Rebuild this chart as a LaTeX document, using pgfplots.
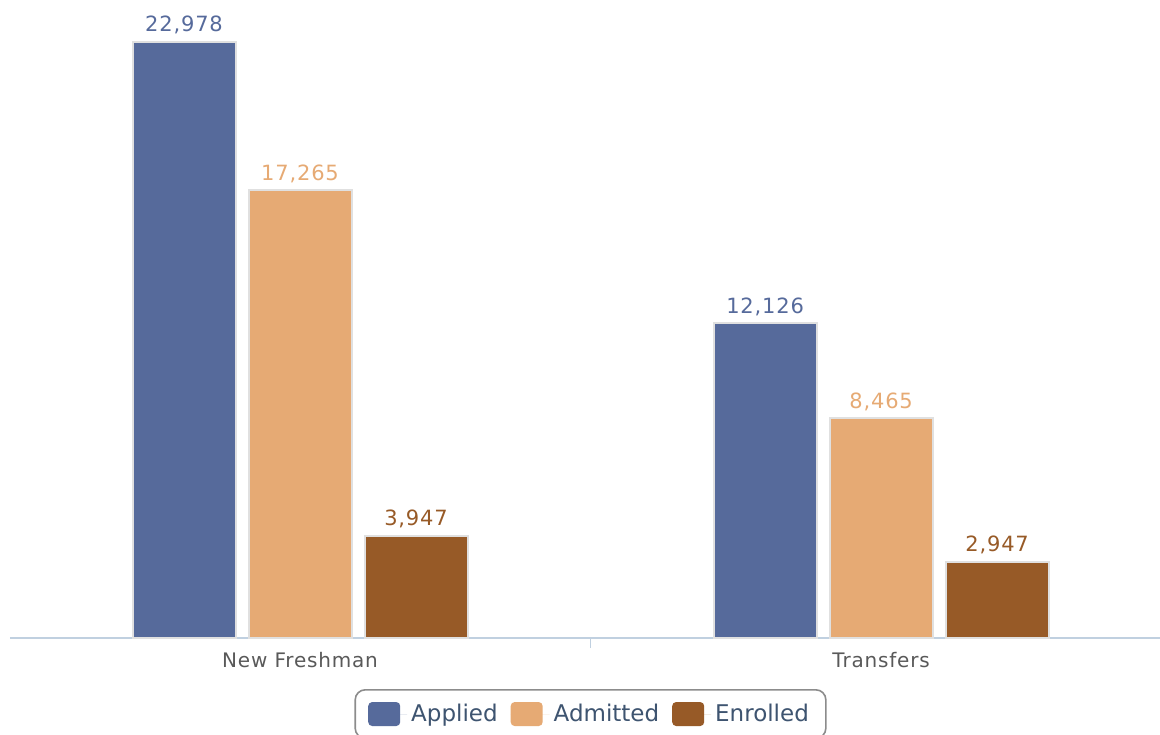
\documentclass[border=0pt]{standalone}
\usepackage{fontspec}
\setmainfont{DejaVu Sans}
\newfontfamily\spaced[LetterSpace=4]{DejaVu Sans}
\usepackage{pgfplots}
\pgfplotsset{compat=1.18}
\definecolor{applied}{RGB}{86,106,155}
\definecolor{admitted}{RGB}{230,170,116}
\definecolor{enrolled}{RGB}{151,90,39}
\definecolor{axisline}{RGB}{192,208,224}
\definecolor{legtext}{RGB}{62,84,112}
\begin{document}
\begin{tikzpicture}
\begin{axis}[
  at={(0pt,0pt)}, anchor=south west,
  scale only axis, width=575pt, height=319pt,
  ybar=6.5pt, bar width=51.5pt,
  xmin=-0.4991, xmax=1.480, ymin=0, ymax=24597,
  axis y line=none, axis x line=bottom,
  axis line style={-, axisline, line width=0.8pt},
  xtick={0,1}, xticklabels={New Freshman, Transfers},
  major tick length=0pt,
  extra x ticks={0.5}, extra x tick labels={},
  extra x tick style={major tick length=5pt, tick align=outside, tick style={axisline, line width=0.8pt}},
  xticklabel style={font=\spaced\fontsize{10}{12}\selectfont, text=black!65, yshift=-3.5pt},
  clip=false,
  /pgf/number format/1000 sep={,},
  /pgf/number format/assume math mode=true,
  nodes near coords,
  every node near coord/.append style={font=\spaced\fontsize{10.5}{12}\selectfont},
  legend columns=3,
  legend style={at={(0.5048,0)}, anchor=north, yshift=-25.5pt,
    draw=black!45, rounded corners=5pt, line width=0.8pt,
    font=\fontsize{11.5}{14}\selectfont, text=legtext,
    inner xsep=6.5pt, inner ysep=5pt,
    /tikz/every even column/.append style={column sep=4.5pt}},
  legend image code/.code={\fill[#1, draw=none, rounded corners=2pt] (0pt,-6pt) rectangle (16pt,6pt); \path[draw=none] (0pt,0pt) -- (19.5pt,0pt);},
]
\addplot[fill=applied, draw=black!12, line width=1pt, every node near coord/.append style={text=applied}] coordinates {(0,22978) (1,12126)};
\addplot[fill=admitted, draw=black!12, line width=1pt, every node near coord/.append style={text=admitted}] coordinates {(0,17265) (1,8465)};
\addplot[fill=enrolled, draw=black!12, line width=1pt, every node near coord/.append style={text=enrolled}] coordinates {(0,3947) (1,2947)};
\legend{Applied, Admitted, Enrolled}
\end{axis}
\pgfresetboundingbox
\path[use as bounding box] (-5pt,-48pt) rectangle (575pt,319pt);
\end{tikzpicture}
\end{document}
